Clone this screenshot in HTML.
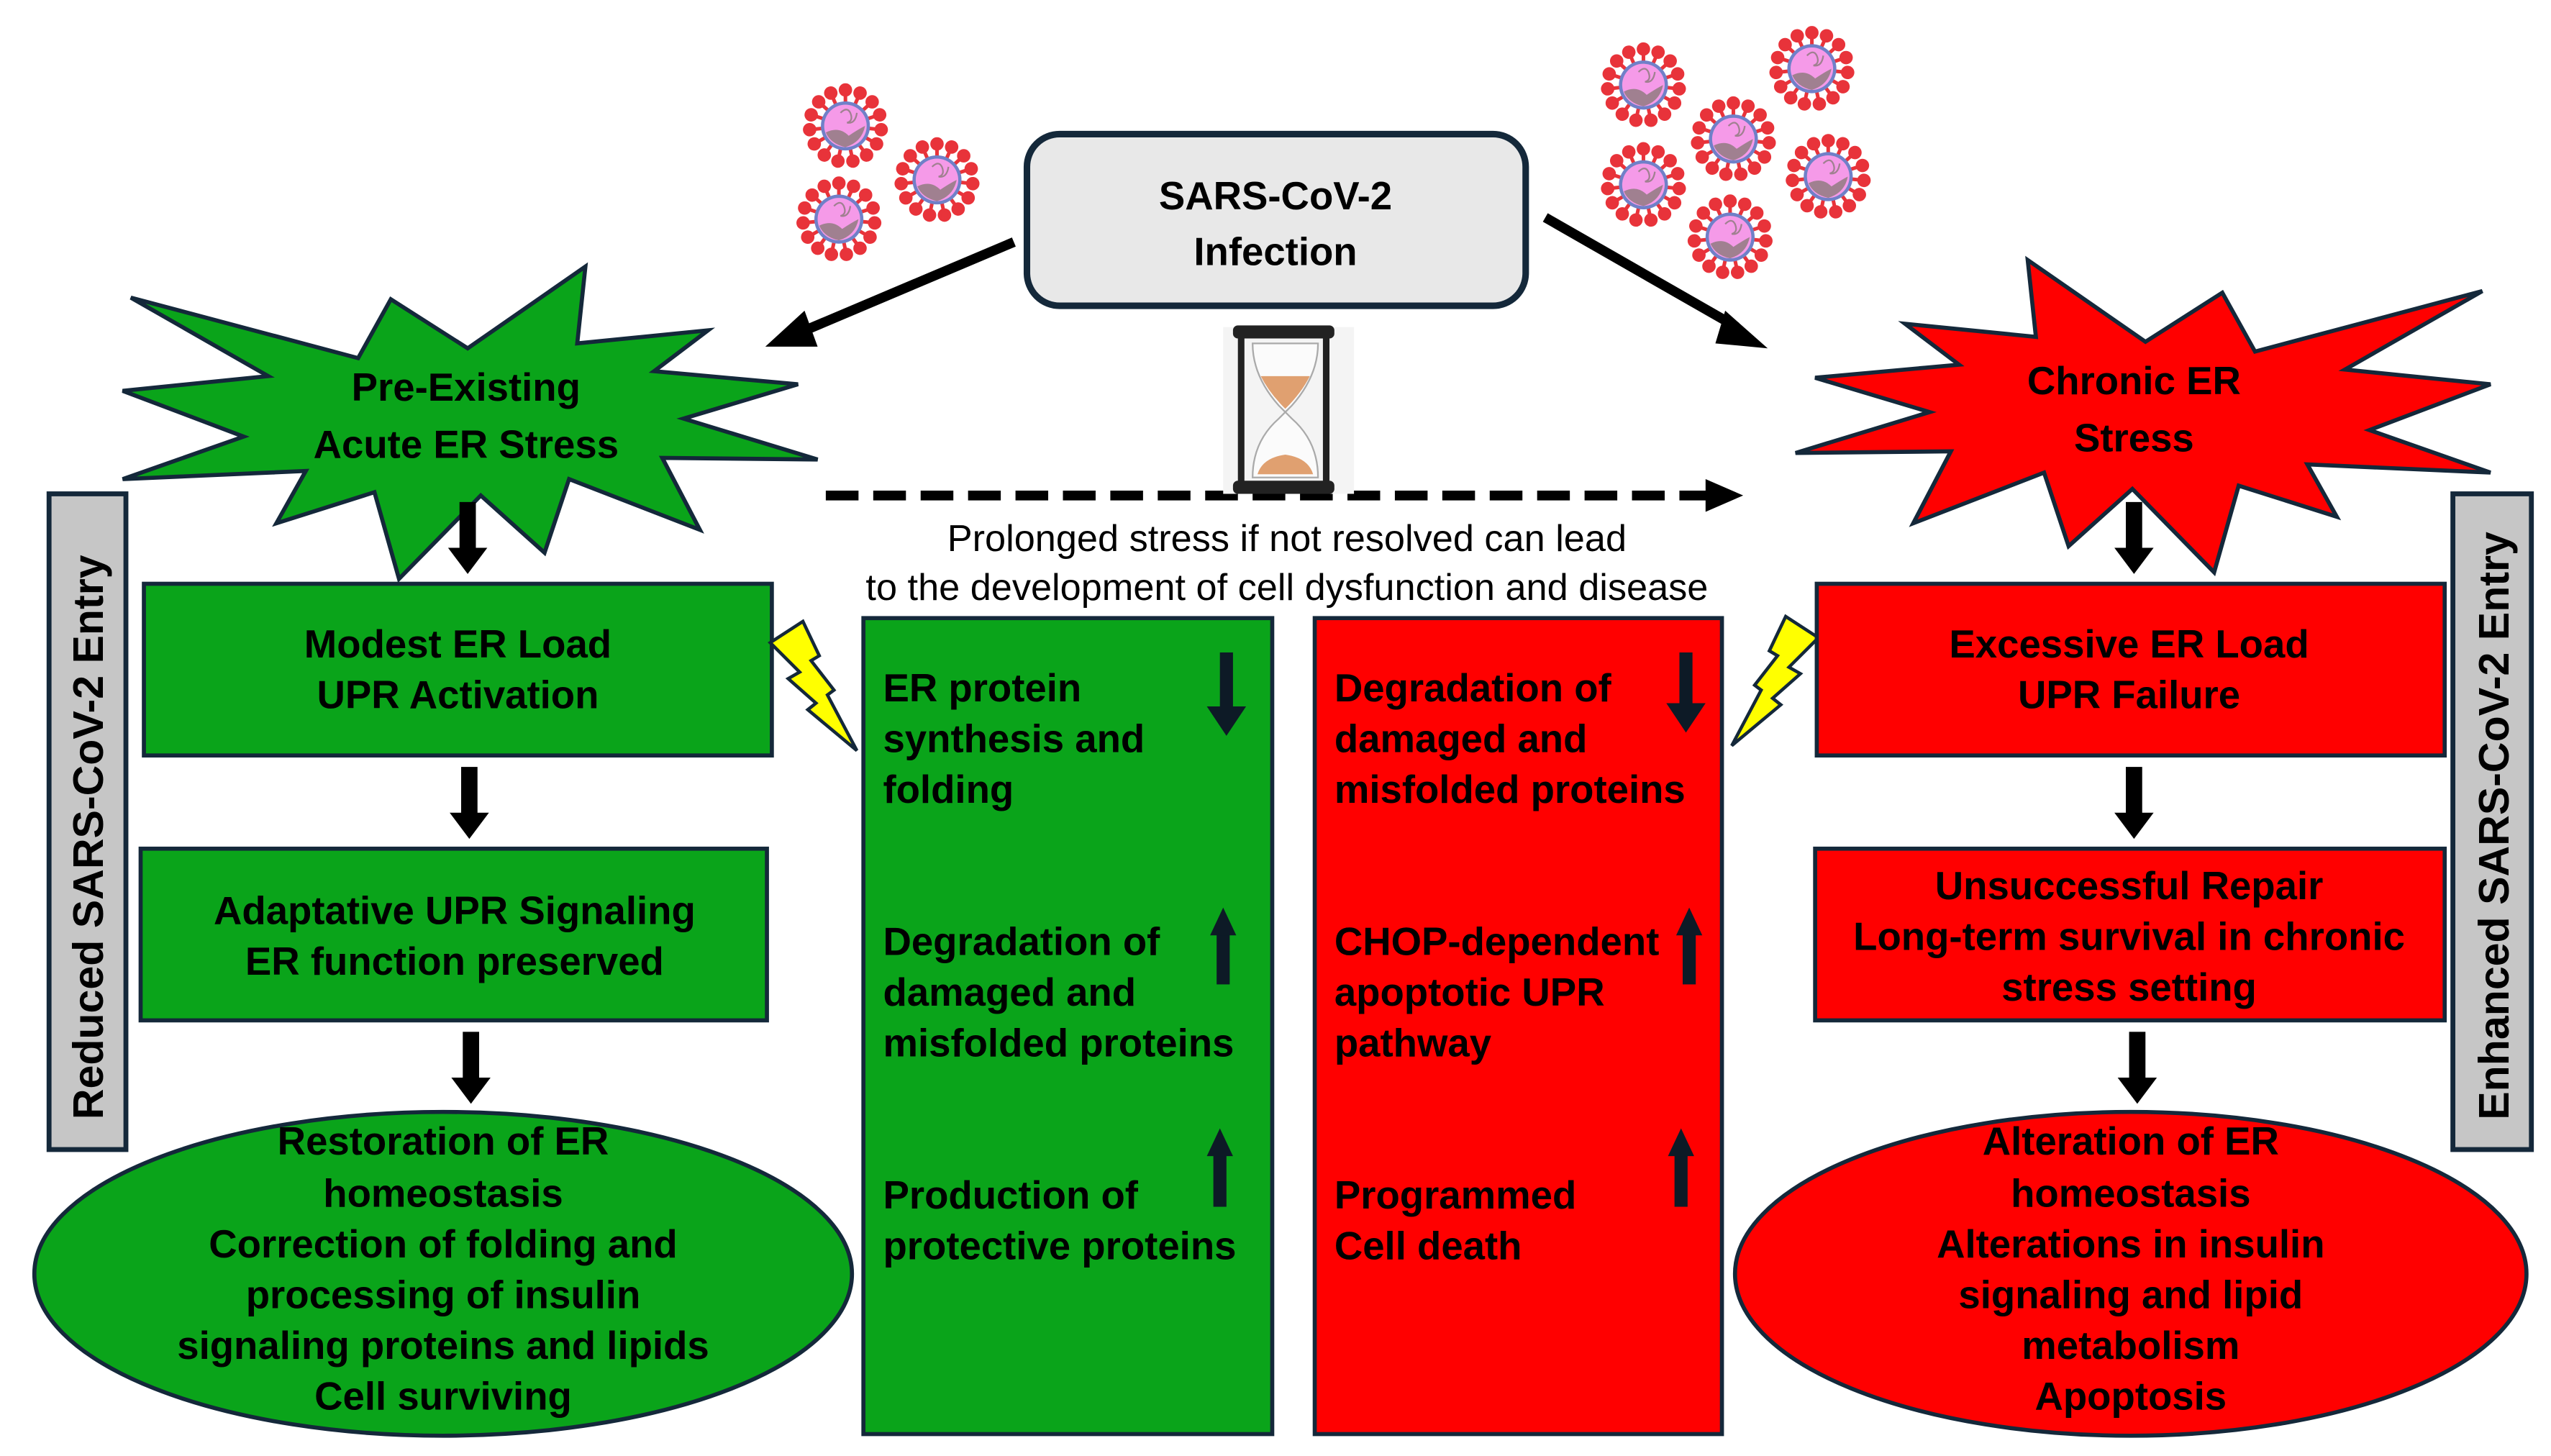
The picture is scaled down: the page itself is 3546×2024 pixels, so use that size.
<!DOCTYPE html>
<html><head><meta charset="utf-8"><style>
html,body{margin:0;padding:0;background:#fff;}
svg{display:block;}
.t{font-family:"Liberation Sans Narrow","Liberation Sans",sans-serif;font-weight:bold;font-size:24px;fill:#000;}
.c{text-anchor:middle;}
</style></head><body>
<svg width="3546" height="2024" viewBox="0 0 1560 890.4" xmlns="http://www.w3.org/2000/svg">
<defs>
<g id="vir">
  <g stroke="#e8333a" stroke-width="2.2" fill="#e8333a">
    <g id="sp"><line x1="0" y1="-13" x2="0" y2="-21"/><circle cx="0" cy="-22" r="3"/></g>
    <use href="#sp" transform="rotate(24)"/><use href="#sp" transform="rotate(48)"/><use href="#sp" transform="rotate(72)"/>
    <use href="#sp" transform="rotate(96)"/><use href="#sp" transform="rotate(120)"/><use href="#sp" transform="rotate(144)"/>
    <use href="#sp" transform="rotate(168)"/><use href="#sp" transform="rotate(192)"/><use href="#sp" transform="rotate(216)"/>
    <use href="#sp" transform="rotate(240)"/><use href="#sp" transform="rotate(264)"/><use href="#sp" transform="rotate(288)"/>
    <use href="#sp" transform="rotate(312)"/><use href="#sp" transform="rotate(336)"/>
  </g>
  <circle r="15" fill="#7080c8"/>
  <circle r="13" fill="#f59ae8"/>
  <path d="M-12,4 Q-4,0 2,6 Q8,2 12,0 Q10,10 0,13 Q-9,11 -12,4Z" fill="#a08090"/>
  <path d="M-3,-8 q4,-4 6,0 q2,5 -2,6 q5,1 6,-6" stroke="#a08090" fill="none" stroke-width="1"/>
</g>
<g id="darr"><rect x="-5" y="0" width="10" height="30" fill="#000"/><polygon points="-12,28 12,28 0,44" fill="#000"/></g>
</defs>

<use href="#vir" x="517" y="77"/><use href="#vir" x="573" y="110"/><use href="#vir" x="513" y="134"/>
<use href="#vir" x="1005" y="52"/><use href="#vir" x="1108" y="42"/><use href="#vir" x="1060" y="85"/>
<use href="#vir" x="1005" y="113"/><use href="#vir" x="1118" y="108"/><use href="#vir" x="1058" y="145"/>

<rect x="628" y="82" width="305" height="105" rx="20" fill="#e8e8e8" stroke="#14283a" stroke-width="4"/>
<text class="t c" x="780" y="128">SARS-CoV-2</text>
<text class="t c" x="780" y="162">Infection</text>

<line x1="620" y1="148" x2="490" y2="203" stroke="#000" stroke-width="6"/>
<polygon points="468,212 492,190 500,212" fill="#000"/>
<line x1="945" y1="133" x2="1062" y2="200" stroke="#000" stroke-width="6"/>
<polygon points="1081,213 1055,190 1049,210" fill="#000"/>

<polygon points="80,182 219,219 239,183 286,213 358,163 353,210 433,202 400,227 488,235 418,256 500,281 405,280 428,324 348,293 333,338 294,303 244,354 229,301 169,320 187,288 75,293 149,267 75,239 164,230" fill="#0aa41a" stroke="#14283a" stroke-width="2.5"/>
<text class="t c" x="285" y="245">Pre-Existing</text>
<text class="t c" x="285" y="280">Acute ER Stress</text>
<polygon points="80,182 219,219 239,183 286,213 358,163 353,210 433,202 400,227 488,235 418,256 500,281 405,280 428,324 348,293 333,338 294,303 244,354 229,301 169,320 187,288 75,293 149,267 75,239 164,230" fill="#ff0000" stroke="#14283a" stroke-width="2.5" transform="translate(1598,-4) scale(-1,1)"/>
<text class="t c" x="1305" y="241">Chronic ER</text>
<text class="t c" x="1305" y="276">Stress</text>

<rect x="30" y="302" width="47" height="401" fill="#c6c6c6" stroke="#14283a" stroke-width="3"/>
<text x="63" y="512" transform="rotate(-90 63 512)" text-anchor="middle" style="font-family:'Liberation Sans',sans-serif;font-weight:bold;font-size:26px">Reduced SARS-CoV-2 Entry</text>
<rect x="1500" y="302" width="48" height="401" fill="#c6c6c6" stroke="#14283a" stroke-width="3"/>
<text x="1534" y="505" transform="rotate(-90 1534 505)" text-anchor="middle" style="font-family:'Liberation Sans',sans-serif;font-weight:bold;font-size:26px">Enhanced SARS-CoV-2 Entry</text>

<line x1="505" y1="303" x2="1045" y2="303" stroke="#000" stroke-width="6" stroke-dasharray="20,9"/>
<polygon points="1043,293 1066,303 1043,313" fill="#000"/>

<rect x="748" y="200" width="80" height="102" fill="#f4f4f4"/>
<rect x="754" y="199" width="62" height="8" rx="3" fill="#222"/>
<rect x="754" y="294" width="62" height="8" rx="3" fill="#222"/>
<rect x="757" y="205" width="4" height="90" fill="#222"/>
<rect x="809" y="205" width="4" height="90" fill="#222"/>
<path d="M766,210 Q766,230 782,248 L786,252 L790,248 Q806,230 806,210Z M766,292 Q766,270 782,256 L786,252 L790,256 Q806,270 806,292Z" fill="#fbfbfb" stroke="#aaa" stroke-width="1"/>
<path d="M771,230 L801,230 Q796,240 786,250 Q776,240 771,230Z" fill="#e0a070"/>
<path d="M769,290 Q772,280 786,278 Q800,280 803,290Z" fill="#e0a070"/>

<text x="787" y="337" text-anchor="middle" style="font-family:'Liberation Sans Narrow','Liberation Sans',sans-serif;font-size:23px">Prolonged stress if not resolved can lead</text>
<text x="787" y="367" text-anchor="middle" style="font-family:'Liberation Sans Narrow','Liberation Sans',sans-serif;font-size:23px">to the development of cell dysfunction and disease</text>

<use href="#darr" x="286" y="307"/>
<rect x="88" y="357" width="384" height="105" fill="#0aa41a" stroke="#14283a" stroke-width="2.5"/>
<text class="t c" x="280" y="402">Modest ER Load</text>
<text class="t c" x="280" y="433">UPR Activation</text>
<use href="#darr" x="287" y="469"/>
<rect x="86" y="519" width="383" height="105" fill="#0aa41a" stroke="#14283a" stroke-width="2.5"/>
<text class="t c" x="278" y="565">Adaptative UPR Signaling</text>
<text class="t c" x="278" y="596">ER function preserved</text>
<use href="#darr" x="288" y="631"/>
<ellipse cx="271" cy="779" rx="250" ry="99" fill="#0aa41a" stroke="#14283a" stroke-width="2.5"/>
<text class="t c" x="271" y="706">Restoration of ER</text>
<text class="t c" x="271" y="738">homeostasis</text>
<text class="t c" x="271" y="769">Correction of folding and</text>
<text class="t c" x="271" y="800">processing of insulin</text>
<text class="t c" x="271" y="831">signaling proteins and lipids</text>
<text class="t c" x="271" y="862">Cell surviving</text>

<polygon points="471,393 491,380 501,401 496,404 510,422 506,425 524,459 494,434 499,430 482,415 489,411" fill="#ffff00" stroke="#14283a" stroke-width="2"/>
<polygon points="471,393 491,380 501,401 496,404 510,422 506,425 524,459 494,434 499,430 482,415 489,411" fill="#ffff00" stroke="#14283a" stroke-width="2" transform="translate(1583,-3) scale(-1,1)"/>

<rect x="528" y="378" width="250" height="499" fill="#0aa41a" stroke="#14283a" stroke-width="2.5"/>
<text class="t" x="540" y="429">ER protein</text>
<text class="t" x="540" y="460">synthesis and</text>
<text class="t" x="540" y="491">folding</text>
<text class="t" x="540" y="584">Degradation of</text>
<text class="t" x="540" y="615">damaged and</text>
<text class="t" x="540" y="646">misfolded proteins</text>
<text class="t" x="540" y="739">Production of</text>
<text class="t" x="540" y="770">protective proteins</text>
<rect x="746" y="399" width="8" height="36" fill="#0d1a26"/><polygon points="738,432 762,432 750,450" fill="#0d1a26"/>
<rect x="744" y="570" width="8" height="32" fill="#0d1a26"/><polygon points="740,572 756,572 748,555" fill="#0d1a26"/>
<rect x="742" y="705" width="8" height="33" fill="#0d1a26"/><polygon points="738,707 754,707 746,690" fill="#0d1a26"/>

<rect x="804" y="378" width="249" height="499" fill="#ff0000" stroke="#14283a" stroke-width="2.5"/>
<text class="t" x="816" y="429">Degradation of</text>
<text class="t" x="816" y="460">damaged and</text>
<text class="t" x="816" y="491">misfolded proteins</text>
<text class="t" x="816" y="584">CHOP-dependent</text>
<text class="t" x="816" y="615">apoptotic UPR</text>
<text class="t" x="816" y="646">pathway</text>
<text class="t" x="816" y="739">Programmed</text>
<text class="t" x="816" y="770">Cell death</text>
<rect x="1027" y="399" width="8" height="34" fill="#0d1a26"/><polygon points="1019,430 1043,430 1031,448" fill="#0d1a26"/>
<rect x="1029" y="570" width="8" height="32" fill="#0d1a26"/><polygon points="1025,572 1041,572 1033,555" fill="#0d1a26"/>
<rect x="1024" y="705" width="8" height="33" fill="#0d1a26"/><polygon points="1020,707 1036,707 1028,690" fill="#0d1a26"/>

<use href="#darr" x="1305" y="307"/>
<rect x="1111" y="357" width="384" height="105" fill="#ff0000" stroke="#14283a" stroke-width="2.5"/>
<text class="t c" x="1302" y="402">Excessive ER Load</text>
<text class="t c" x="1302" y="433">UPR Failure</text>
<use href="#darr" x="1305" y="469"/>
<rect x="1110" y="519" width="385" height="105" fill="#ff0000" stroke="#14283a" stroke-width="2.5"/>
<text class="t c" x="1302" y="550">Unsuccessful Repair</text>
<text class="t c" x="1302" y="581">Long-term survival in chronic</text>
<text class="t c" x="1302" y="612">stress setting</text>
<use href="#darr" x="1307" y="631"/>
<ellipse cx="1303" cy="779" rx="242" ry="99" fill="#ff0000" stroke="#14283a" stroke-width="2.5"/>
<text class="t c" x="1303" y="706">Alteration of ER</text>
<text class="t c" x="1303" y="738">homeostasis</text>
<text class="t c" x="1303" y="769">Alterations in insulin</text>
<text class="t c" x="1303" y="800">signaling and lipid</text>
<text class="t c" x="1303" y="831">metabolism</text>
<text class="t c" x="1303" y="862">Apoptosis</text>
</svg>
</body></html>
